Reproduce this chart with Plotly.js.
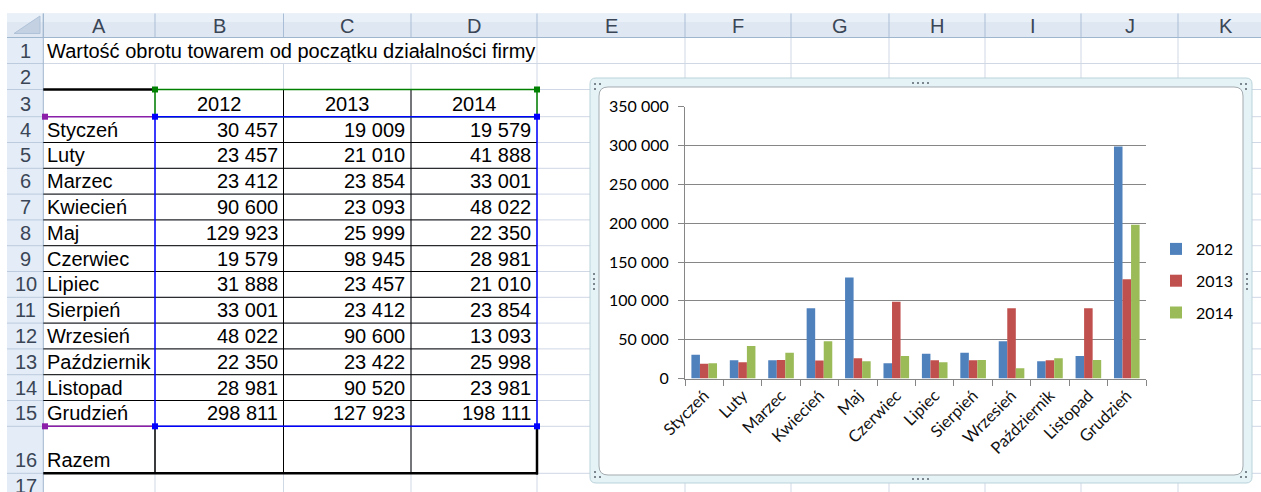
<!DOCTYPE html>
<html><head><meta charset="utf-8">
<script src="https://cdn.plot.ly/plotly-3.0.1.min.js"></script>
<style>html,body{margin:0;padding:0;background:#fff;}#chart{width:1261px;height:492px;}</style>
</head><body><div id="chart"></div>
<script>
// ---------- data ----------
const months = ['Styczeń','Luty','Marzec','Kwiecień','Maj','Czerwiec','Lipiec','Sierpień','Wrzesień','Październik','Listopad','Grudzień'];
const seriesNames = ['2012','2013','2014'];
const values2012 = [30457,23457,23412,90600,129923,19579,31888,33001,48022,22350,28981,298811];
const values2013 = [19009,21010,23854,23093,25999,98945,23457,23412,90600,23422,90520,127923];
const values2014 = [19579,41888,33001,48022,22350,28981,21010,23854,13093,25998,23981,198111];
const columnLetters = ['A','B','C','D','E','F','G','H','I','J','K'];
const sheetTitle = 'Wartość obrotu towarem od początku działalności firmy';
const totalLabel = 'Razem';
const seriesColors = ['#4f81bd','#c0504d','#9bbb59'];

// ---------- geometry helpers ----------
const W = 1261, H = 492;
const X = p => p / W, Y = p => 1 - p / H;
const colX = [7, 43.3, 155, 283.5, 411, 537, 685, 791, 889, 985, 1081, 1178, 1274];
const rowY = [13.5, 37.5, 63.5, 89.5, 116.7];
for (let i = 1; i <= 12; i++) rowY.push(+(116.7 + 25.8 * i).toFixed(1));
rowY.push(473.3, 499);
const rowText = r => rowY[r + 1] - 12.9;

const shapes = [];
const L = (x0, y0, x1, y1, color, width) => shapes.push({type:'line', xref:'paper', yref:'paper',
  x0:X(x0), y0:Y(y0), x1:X(x1), y1:Y(y1), line:{color:color, width:width || 1}, layer:'below'});
const R = (x0, y0, x1, y1, fill, lc, lw) => shapes.push({type:'rect', xref:'paper', yref:'paper',
  x0:X(x0), y0:Y(y0), x1:X(x1), y1:Y(y1), fillcolor:fill,
  line:{color:lc || 'rgba(0,0,0,0)', width:lw || 0}, layer:'below'});
const P = (d, fill, lc, lw) => shapes.push({type:'path', xref:'paper', yref:'paper', path:d,
  fillcolor:fill, line:{color:lc || 'rgba(0,0,0,0)', width:lw || 0}, layer:'below'});
const pt = (x, y) => X(x).toFixed(6) + ',' + Y(y).toFixed(6);
const roundRect = (x0, y0, x1, y1, r) =>
  'M' + pt(x0 + r, y0) + ' L' + pt(x1 - r, y0) + ' Q' + pt(x1, y0) + ' ' + pt(x1, y0 + r) +
  ' L' + pt(x1, y1 - r) + ' Q' + pt(x1, y1) + ' ' + pt(x1 - r, y1) +
  ' L' + pt(x0 + r, y1) + ' Q' + pt(x0, y1) + ' ' + pt(x0, y1 - r) +
  ' L' + pt(x0, y0 + r) + ' Q' + pt(x0, y0) + ' ' + pt(x0 + r, y0) + ' Z';

// ---------- spreadsheet grid ----------
for (let r = 2; r <= 18; r++) L(43.3, rowY[r], W, rowY[r], '#d0d7e5', 1);
for (let c = 2; c <= 12; c++) L(colX[c], (c <= 4 ? 63.5 : 37.5), colX[c], H, '#d0d7e5', 1);

// headers
R(7, 13.5, W, 37.5, '#dfe7f2');
R(7, 13.5, W, 22, '#eaf0f8');
for (let c = 1; c <= 12; c++) L(colX[c], 13.5, colX[c], 37.5, '#a9bdd6', 1);
R(7, 37.5, 43.3, H, '#e4ecf7');
for (let r = 2; r <= 18; r++) L(7, rowY[r], 43.3, rowY[r], '#bccbde', 1);
L(7, 37.5, W, 37.5, '#9eb6ce', 1);
L(43.3, 13.5, 43.3, H, '#9eb6ce', 1);
P('M' + pt(14, 33.5) + ' L' + pt(40, 33.5) + ' L' + pt(40, 16) + ' Z', '#c3d1e3', '#b0c2d8', 1);

// table borders
for (let r = 5; r <= 16; r++) L(43.3, rowY[r], 537, rowY[r], '#000', 1);
L(283.5, 89.5, 283.5, 473.3, '#000', 1);
L(411, 89.5, 411, 473.3, '#000', 1);
L(155, 426.3, 155, 473.3, '#000', 1.5);
L(537, 426.3, 537, 474.5, '#000', 2.5);
L(43.3, 473.3, 538, 473.3, '#000', 2.5);
L(43.3, 89.5, 155, 89.5, '#000', 2.5);
R(155, 89.5, 537, 116.7, 'rgba(0,0,0,0)', '#008000', 1.5);
L(45, 116.7, 155, 116.7, '#8b1fa9', 1.5);
L(45, 426.3, 155, 426.3, '#8b1fa9', 1.5);
R(155, 116.7, 537, 426.3, 'rgba(0,0,0,0)', '#0000ff', 1.5);
const handle = (x, y, col) => R(x - 3, y - 3, x + 3, y + 3, col);
handle(45, 116.7, '#8b1fa9'); handle(45, 426.3, '#8b1fa9');
handle(155, 89.5, '#008000'); handle(537, 89.5, '#008000');
handle(155, 116.7, '#0000ff'); handle(537, 116.7, '#0000ff');
handle(155, 426.3, '#0000ff'); handle(537, 426.3, '#0000ff');

// chart frame
P(roundRect(590, 78, 1252, 483, 6), '#e6f3f6', '#b9d3db', 1);
P(roundRect(599, 87, 1243, 475, 9), '#ffffff', '#a3abb0', 1);
const dot = (x, y) => R(x - 1, y - 1, x + 1, y + 1, '#7c868e');
[[595,84],[600,84],[595,89],[1241,84],[1246,84],[1246,89],[595,472],[595,477],[600,477],[1246,472],[1241,477],[1246,477]]
  .forEach(d => dot(d[0], d[1]));
[913, 918, 923, 928].forEach(x => { dot(x, 83); dot(x, 479); });
[274, 279, 284, 289].forEach(y => { dot(594, y); dot(1247, y); });

// ---------- cell texts ----------
const fmt = n => String(n).replace(/\B(?=(\d{3})+(?!\d))/g, ' ');
const annotations = [];
const cellFont = {family:'Liberation Sans, Arial, sans-serif', size:20, color:'#000'};
const hdrFont = {family:'Liberation Sans, Arial, sans-serif', size:20, color:'#3a4656'};
const T = (x, y, text, anchor, font) => annotations.push({xref:'paper', yref:'paper', x:X(x), y:Y(y),
  text:text, showarrow:false, xanchor:anchor, yanchor:'middle', font:font || cellFont, borderpad:0});
columnLetters.forEach((l, i) => T((colX[i + 1] + colX[i + 2]) / 2, 25.5, l, 'center', hdrFont));
for (let r = 1; r <= 17; r++) T(25.5, rowText(r), String(r), 'center', hdrFont);
T(46, rowText(1), sheetTitle, 'left');
seriesNames.forEach((s, i) => T((colX[i + 2] + colX[i + 3]) / 2, rowText(3), s, 'center'));
const allSeries = [values2012, values2013, values2014];
months.forEach((m, k) => {
  T(46, rowText(4 + k), m, 'left');
  allSeries.forEach((v, i) => T(colX[i + 3] - 5, rowText(4 + k), fmt(v[k]), 'right'));
});
T(46, rowText(16), totalLabel, 'left');

// ---------- chart ----------
const chartFont = {family:'Lato, "Open Sans", sans-serif', size:16, color:'#000'};
const traces = allSeries.map((v, i) => ({
  type:'bar', x:months, y:v, name:seriesNames[i], legendgroup:'g' + i,
  marker:{color:seriesColors[i], line:{width:0}}, hoverinfo:'skip'
}));

const layout = {
  width:W, height:H, margin:{l:0, r:0, t:0, b:0, pad:0},
  paper_bgcolor:'#ffffff', plot_bgcolor:'rgba(0,0,0,0)',
  separators:', ', font:chartFont,
  barmode:'group', bargap:0.333, bargroupgap:0,
  xaxis:{domain:[X(685), X(1146)], type:'category', tickson:'boundaries', ticks:'outside', ticklen:6,
    tickcolor:'#868686', showline:true, linecolor:'#868686', linewidth:1, showgrid:false,
    tickangle:-45, tickfont:{family:'Lato, "Open Sans", sans-serif', size:16.5, color:'#111'},
    automargin:false, fixedrange:true},
  yaxis:{domain:[Y(378.5), Y(106.7)], range:[0, 350000], dtick:50000, tickformat:',d',
    ticks:'outside', ticklen:6, tickcolor:'#868686', showline:true, linecolor:'#868686', linewidth:1,
    showgrid:true, gridcolor:'#868686', gridwidth:1, zeroline:false, tickfont:chartFont,
    ticklabelstandoff:6, automargin:false, fixedrange:true},
  showlegend:true,
  legend:{x:X(1156), y:Y(232), xanchor:'left', yanchor:'top', font:chartFont, tracegroupgap:8,
    bgcolor:'rgba(0,0,0,0)', borderwidth:0, orientation:'v'},
  shapes:shapes, annotations:annotations
};

Plotly.newPlot('chart', traces, layout, {staticPlot:true, displayModeBar:false});
</script>
</body></html>
